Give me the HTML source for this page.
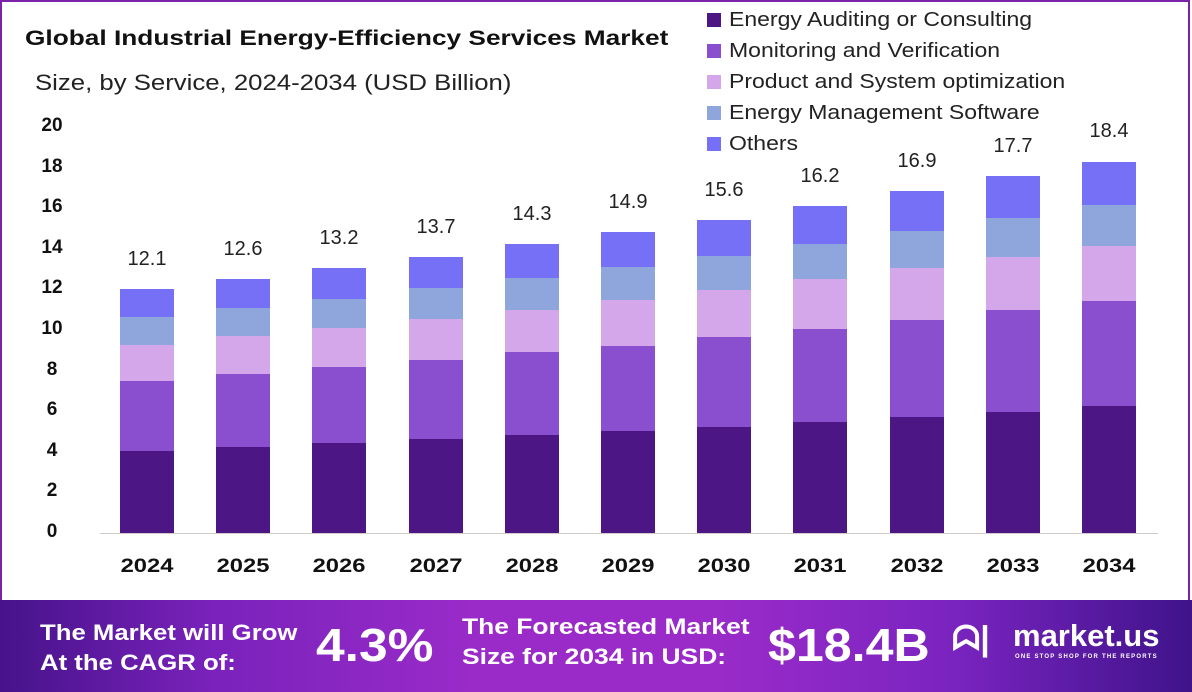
<!DOCTYPE html>
<html><head><meta charset="utf-8"><style>
*{margin:0;padding:0;box-sizing:border-box}
body{width:1192px;height:692px;position:relative;background:#fff;font-family:"Liberation Sans",sans-serif;overflow:hidden}
.frame{position:absolute;left:0;top:0;width:1190px;height:600px;border:2px solid #7b22a8;border-bottom:none}
.t{position:absolute;white-space:nowrap;transform-origin:0 0}
.yl{position:absolute;left:30px;width:44px;text-align:center;font-weight:bold;font-size:19px;color:#111}
.xl{position:absolute;top:556px;width:96px;text-align:center;font-weight:bold;font-size:19px;color:#111;transform:scaleX(1.25)}
.vl{position:absolute;width:96px;text-align:center;font-size:20px;color:#222}
.s{position:absolute;width:54px}
.a{background:#4c1684}.b{background:#8a4fcf}.c{background:#d3a7ea}.d{background:#8ea6db}.e{background:#7670f6}
.lg{position:absolute;left:707px;font-size:20px;color:#222;white-space:nowrap}
.lg i{display:inline-block;width:14px;height:14px;margin-right:8px;vertical-align:-1px}
.lg span{display:inline-block;transform:scaleX(1.15);transform-origin:0 0}
.banner{position:absolute;left:0;top:600px;width:1192px;height:92px;background:linear-gradient(90deg,#46138a 0%,#7a22bb 18%,#9a2bc9 40%,#9a2bc9 60%,#7a24c0 80%,#3f138a 100%)}
.w{color:#fff;font-weight:bold;position:absolute;white-space:nowrap;transform-origin:0 0}
</style></head><body>
<div class="frame"></div>
<div class="t" style="left:25px;top:27px;font-size:21px;font-weight:bold;color:#111;transform:scaleX(1.25)">Global Industrial Energy-Efficiency Services Market</div>
<div class="t" style="left:35px;top:70px;font-size:22px;color:#222;transform:scaleX(1.17)">Size, by Service, 2024-2034 (USD Billion)</div>

<div class="yl" style="top:115px">20</div>
<div class="yl" style="top:156px">18</div>
<div class="yl" style="top:196px">16</div>
<div class="yl" style="top:237px">14</div>
<div class="yl" style="top:277px">12</div>
<div class="yl" style="top:318px">10</div>
<div class="yl" style="top:359px">8</div>
<div class="yl" style="top:399px">6</div>
<div class="yl" style="top:440px">4</div>
<div class="yl" style="top:480px">2</div>
<div class="yl" style="top:521px">0</div>

<div style="position:absolute;left:100px;top:533px;width:1058px;height:1px;background:#ccc"></div>

<div class="lg" style="top:9px"><i class="a"></i><span>Energy Auditing or Consulting</span></div>
<div class="lg" style="top:40px"><i class="b"></i><span>Monitoring and Verification</span></div>
<div class="lg" style="top:71px"><i class="c"></i><span>Product and System optimization</span></div>
<div class="lg" style="top:102px"><i class="d"></i><span>Energy Management Software</span></div>
<div class="lg" style="top:133px"><i class="e"></i><span>Others</span></div>

<!-- 2024 -->
<div class="s a" style="left:120px;top:451px;height:82px"></div><div class="s b" style="left:120px;top:381px;height:70px"></div><div class="s c" style="left:120px;top:345px;height:36px"></div><div class="s d" style="left:120px;top:317px;height:28px"></div><div class="s e" style="left:120px;top:289px;height:28px"></div>
<div class="vl" style="left:99px;top:248px">12.1</div><div class="xl" style="left:99px">2024</div>
<!-- 2025 -->
<div class="s a" style="left:216px;top:447px;height:86px"></div><div class="s b" style="left:216px;top:374px;height:73px"></div><div class="s c" style="left:216px;top:336px;height:38px"></div><div class="s d" style="left:216px;top:308px;height:28px"></div><div class="s e" style="left:216px;top:279px;height:29px"></div>
<div class="vl" style="left:195px;top:238px">12.6</div><div class="xl" style="left:195px">2025</div>
<!-- 2026 -->
<div class="s a" style="left:312px;top:443px;height:90px"></div><div class="s b" style="left:312px;top:367px;height:76px"></div><div class="s c" style="left:312px;top:328px;height:39px"></div><div class="s d" style="left:312px;top:299px;height:29px"></div><div class="s e" style="left:312px;top:268px;height:31px"></div>
<div class="vl" style="left:291px;top:227px">13.2</div><div class="xl" style="left:291px">2026</div>
<!-- 2027 -->
<div class="s a" style="left:409px;top:439px;height:94px"></div><div class="s b" style="left:409px;top:360px;height:79px"></div><div class="s c" style="left:409px;top:319px;height:41px"></div><div class="s d" style="left:409px;top:288px;height:31px"></div><div class="s e" style="left:409px;top:257px;height:31px"></div>
<div class="vl" style="left:388px;top:216px">13.7</div><div class="xl" style="left:388px">2027</div>
<!-- 2028 -->
<div class="s a" style="left:505px;top:435px;height:98px"></div><div class="s b" style="left:505px;top:352px;height:83px"></div><div class="s c" style="left:505px;top:310px;height:42px"></div><div class="s d" style="left:505px;top:278px;height:32px"></div><div class="s e" style="left:505px;top:244px;height:34px"></div>
<div class="vl" style="left:484px;top:203px">14.3</div><div class="xl" style="left:484px">2028</div>
<!-- 2029 -->
<div class="s a" style="left:601px;top:431px;height:102px"></div><div class="s b" style="left:601px;top:346px;height:85px"></div><div class="s c" style="left:601px;top:300px;height:46px"></div><div class="s d" style="left:601px;top:267px;height:33px"></div><div class="s e" style="left:601px;top:232px;height:35px"></div>
<div class="vl" style="left:580px;top:191px">14.9</div><div class="xl" style="left:580px">2029</div>
<!-- 2030 -->
<div class="s a" style="left:697px;top:427px;height:106px"></div><div class="s b" style="left:697px;top:337px;height:90px"></div><div class="s c" style="left:697px;top:290px;height:47px"></div><div class="s d" style="left:697px;top:256px;height:34px"></div><div class="s e" style="left:697px;top:220px;height:36px"></div>
<div class="vl" style="left:676px;top:179px">15.6</div><div class="xl" style="left:676px">2030</div>
<!-- 2031 -->
<div class="s a" style="left:793px;top:422px;height:111px"></div><div class="s b" style="left:793px;top:329px;height:93px"></div><div class="s c" style="left:793px;top:279px;height:50px"></div><div class="s d" style="left:793px;top:244px;height:35px"></div><div class="s e" style="left:793px;top:206px;height:38px"></div>
<div class="vl" style="left:772px;top:165px">16.2</div><div class="xl" style="left:772px">2031</div>
<!-- 2032 -->
<div class="s a" style="left:890px;top:417px;height:116px"></div><div class="s b" style="left:890px;top:320px;height:97px"></div><div class="s c" style="left:890px;top:268px;height:52px"></div><div class="s d" style="left:890px;top:231px;height:37px"></div><div class="s e" style="left:890px;top:191px;height:40px"></div>
<div class="vl" style="left:869px;top:150px">16.9</div><div class="xl" style="left:869px">2032</div>
<!-- 2033 -->
<div class="s a" style="left:986px;top:412px;height:121px"></div><div class="s b" style="left:986px;top:310px;height:102px"></div><div class="s c" style="left:986px;top:257px;height:53px"></div><div class="s d" style="left:986px;top:218px;height:39px"></div><div class="s e" style="left:986px;top:176px;height:42px"></div>
<div class="vl" style="left:965px;top:135px">17.7</div><div class="xl" style="left:965px">2033</div>
<!-- 2034 -->
<div class="s a" style="left:1082px;top:406px;height:127px"></div><div class="s b" style="left:1082px;top:301px;height:105px"></div><div class="s c" style="left:1082px;top:246px;height:55px"></div><div class="s d" style="left:1082px;top:205px;height:41px"></div><div class="s e" style="left:1082px;top:162px;height:43px"></div>
<div class="vl" style="left:1061px;top:120px">18.4</div><div class="xl" style="left:1061px">2034</div>

<div class="banner">
  <div class="w" style="left:40px;top:18px;font-size:22px;line-height:30px;transform:scaleX(1.17)">The Market will Grow<br>At the CAGR of:</div>
  <div class="w" style="left:316px;top:18px;font-size:46px;transform:scaleX(1.12)">4.3%</div>
  <div class="w" style="left:462px;top:12px;font-size:22px;line-height:30px;transform:scaleX(1.2)">The Forecasted Market<br>Size for 2034 in USD:</div>
  <div class="w" style="left:768px;top:18px;font-size:46px;transform:scaleX(1.09)">$18.4B</div>
  <div class="w" style="left:952px;top:20px;font-size:34px">ᗣ|</div>
  <div class="w" style="left:1013px;top:18px;font-size:31px">market.us</div>
  <div class="w" style="left:1015px;top:54px;font-size:6px;letter-spacing:1.2px">ONE STOP SHOP FOR THE REPORTS</div>
</div>
</body></html>
